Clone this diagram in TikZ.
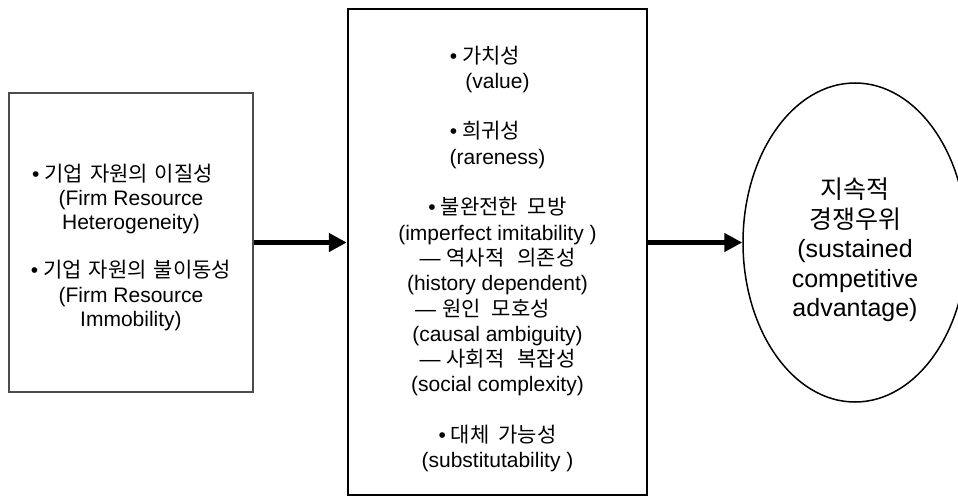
\documentclass[tikz,border=0pt]{standalone}
\usepackage{fontspec}
\setmainfont{Liberation Sans}
\newfontfamily\krfont{Noto Sans CJK KR}
\usetikzlibrary{shapes.geometric,arrows.meta}
\newcommand{\K}[1]{{\krfont\fontsize{21}{21}\selectfont #1}}
\newcommand{\KE}[1]{{\krfont\fontsize{25}{25}\selectfont #1}}
\newcommand{\bul}{\textbullet\hspace{5pt}}
\tikzset{
  leftbox/.style={draw=black!70, line width=1.5pt, rectangle, inner sep=0pt,
    minimum width=244pt, minimum height=299pt},
  midbox/.style={draw=black, line width=2.5pt, rectangle, inner sep=0pt,
    minimum width=299pt, minimum height=486pt},
  goal/.style={draw=black, line width=1.5pt, ellipse, inner sep=0pt,
    minimum width=224pt, minimum height=319pt},
  txt/.style={align=center, inner sep=0pt, anchor=north},
  flow/.style={line width=4.5pt, -{Triangle[length=18pt,width=18pt]}}
}
\begin{document}
\begin{tikzpicture}[x=1pt,y=-1pt]
\useasboundingbox (0,0) rectangle (958,497);
\clip (0,0) rectangle (958,497);
\fill[white] (0,0) rectangle (958,497);

\node[leftbox] (L) at (131,242.5) {};
\node[midbox] (M) at (497.5,252) {};
\node[goal] (E) at (855,242.5) {};

\node[txt, font=\fontsize{21}{24.2}\selectfont] (Lt) at (131,163.5) {%
\bul\K{기업\hspace{7pt}자원의\hspace{7pt}이질성}\hspace{17pt}\mbox{}\\
(Firm Resource\\
Heterogeneity)\\[24.2pt]
\bul\K{기업\hspace{7pt}자원의\hspace{7pt}불이동성}\\
(Firm Resource\\
Immobility)};

\node[txt, font=\fontsize{21}{25.3}\selectfont] (Mt) at (497.5,45.5) {%
\bul\K{가치성}\hspace{25pt}\mbox{}\\
(value)\\[25.3pt]
\bul\K{희귀성}\hspace{25pt}\mbox{}\\
(rareness)\\[25.3pt]
\bul\K{불완전한\hspace{10pt}모방}\\
(imperfect imitability )\\
—\hspace{6pt}\K{역사적\hspace{13pt}의존성}\\
(history dependent)\\
—\hspace{6pt}\K{원인\hspace{11pt}모호성}\hspace{30pt}\mbox{}\\
(causal ambiguity)\\
—\hspace{6pt}\K{사회적\hspace{13pt}복잡성}\\
(social complexity)\\[25.3pt]
\bul\K{대체\hspace{9pt}가능성}\\
(substitutability )};

\node[txt, font=\fontsize{25}{29.4}\selectfont] (Et) at (855,178) {%
\KE{지속적}\\
\KE{경쟁우위}\\
(sustained\\
competitive\\
advantage)};

\draw[flow] (L.east) -- (L.east -| M.west);
\draw[flow] (M.east |- E.west) -- (E.west);
\end{tikzpicture}
\end{document}
